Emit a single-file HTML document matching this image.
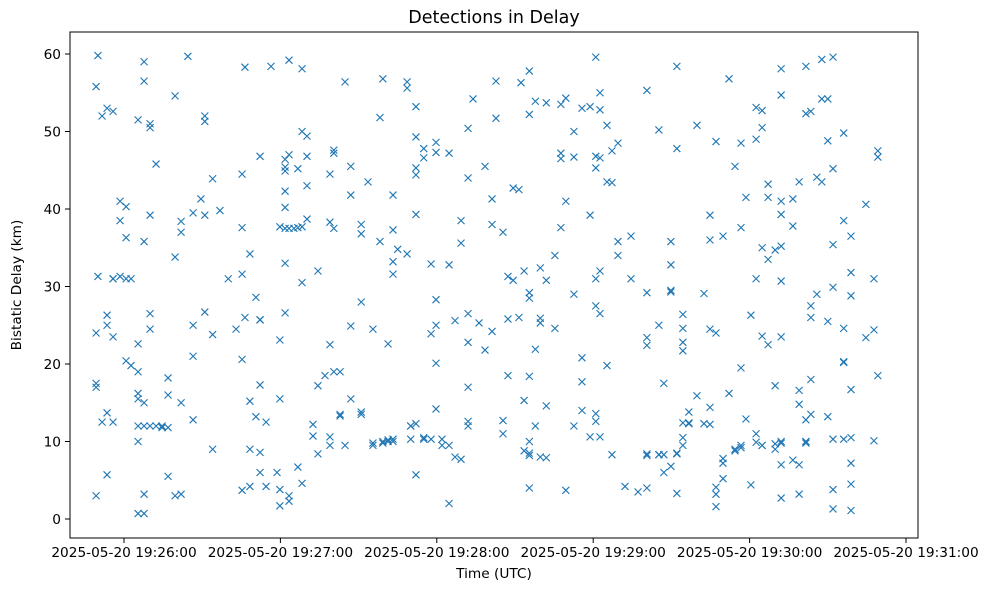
<!DOCTYPE html>
<html><head><meta charset="utf-8"><style>
body{margin:0;background:#fff;font-family:"DejaVu Sans","Liberation Sans",sans-serif}
svg text{font-family:"DejaVu Sans","Liberation Sans",sans-serif;fill:#000}
</style></head><body>
<svg id="chart" width="988" height="590" viewBox="0 0 988 590" xmlns="http://www.w3.org/2000/svg">
<rect width="988" height="590" fill="#fff"/>
<text x="494" y="23" font-size="17.5" text-anchor="middle">Detections in Delay</text>
<rect x="70" y="32" width="848" height="506" fill="none" stroke="#000" stroke-width="1"/>
<g id="marks"></g>
<g id="xticks"></g>
<g id="yticks"></g>
<text x="494" y="578" font-size="13.7" text-anchor="middle">Time (UTC)</text>
<text x="0" y="0" font-size="13.7" text-anchor="middle" transform="translate(21,285) rotate(-90)">Bistatic Delay (km)</text>
</svg>
<script>
// seconds after 19:26:00 UTC
const groupTimes = [-10.7,-10,-8.4,-6.5,-4.2,-1.5,0.8,2.7,5.4,7.7,10,12.3,14.6,16.9,19.6,21.9,24.5,26.5,29.5,31,34,36.8,40,43,45.3,46.4,48.3,50.6,52.2,54.5,56.4,58.7,59.8,61.8,63.3,65.2,66.7,68.3,70.2,72.5,74.4,77.1,79,80.5,82.9,84.8,87,91,93.6,95.5,98.2,99.3,101.3,103.2,105,108.6,110,112,115,117.8,119.7,122,124.7,127,129.3,132,133.9,136.2,138.5,141.2,142.7,145.4,147.3,149.3,151.5,152.3,153.5,155.5,157.8,159.7,162,165.3,167.6,169.5,172.6,175.7,178.8,181,182.6,185.3,187.2,189.5,192.2,194.5,197.2,200.6,205.2,207.1,209.8,212.1,214.4,216.7,219.8,222.5,224.8,227.1,229.8,232.1,234.4,236.7,238.6,240.5,242.5,244.8,247.1,249.8,252.1,256.6,259,261.6,263.5,265.8,267.7,270,272,276.1,278.9,284.6,287.7,289.2];
const groupDelays = [
[55.8,3,17.5,17,24],[59.8,31.3],[52,12.5],[26.3,25,5.7,13.7,53],[31,31,23.5,52.6,12.5],[41,38.5,31.3],[40.3,36.3,31,20.4],[31,19.8],
[51.5,0.7,16.2,15.5,12,10,22.6,19],[59,56.5,35.8,15,12,0.7,3.2],[50.5,51,39.2,26.5,24.5,12],[45.8,12],[11.8,12],[11.8,18.2,16,5.5],
[54.6,33.8,3],[37,38.4,15,3.2],[59.7],[39.5,25,21,12.8],[41.3],[51.3,52,39.2,26.7],[43.9,23.8,9],[39.8],[31],[24.5],
[44.5,37.6,31.6,20.6,3.7],[58.3,26],[15.2,9,4.2,34.2],[28.6,13.2],[46.8,25.7,25.7,17.3,8.6,6],[12.5,4.2],[58.4],[6],
[37.7,15.5,23.1,1.7,3.8],[46.4,42.3,37.5,33,26.6,44.9,45.4,40.2],[59.2,47,37.5,3,2.3],[37.5],[45.2,37.6,6.7],[58.1,50,37.7,30.5,4.6],
[49.4,46.8,43,38.7],[12.2,10.7],[32,17.2,8.4],[18.5],[38.3,44.5,22.5,10.6,9.5],[47.6,47.2,37.5,19],[13.3,19,13.5],[56.4,9.5],
[41.8,45.5,15.5,24.9],[38,36.8,28,13.8,13.5],[43.5],[24.5,9.5,9.8],[35.8,51.8],[56.8,10,9.8],[10.2,22.6,10],[33.2,31.6,37.3,41.8,10.3,10],
[34.8],[55.6,56.4,34.2],[12,10.3,12],[49.3,45.3,53.2,44.4,39.3,12.3,5.7],[47.8,46.6,10.3,10.5],[32.9,23.9,10.3],[48.6,47.3,28.3,25,20.1,14.2],
[10.3,9.5],[47.2,32.8,9.5,2],[25.6,8],[38.5,35.6,7.7],[50.4,44,26.5,22.8,17,12.6,12],[54.2],[25.3],[45.5,21.8],[41.3,38,24.2],[56.5,51.7],
[37,12.7,11],[31.3,25.8,18.5],[42.7,30.8],[42.5,26],[56.3],[32,15.3,8.8],[57.8,52.2,29.2,28.5,18.4,8.5,10,4,8.2],[53.9,21.9,12],
[25.9,25.3,32.4,8],[53.7,14.6,30.8,7.9],[34,24.6],[47.2,53.5,46.5,37.6],[3.7,54.3,41],[50,46.7,29,12],[53,20.8,17.7,14],[53.2,39.2,10.6],
[59.6,46.8,45.3,31,13.6,12.6,27.5],[52.8,55,46.6,32,26.5,10.6],[50.8,43.5,19.8],[43.4,47.5,8.3],[48.5,35.8,34],[4.2],[31,36.5],[3.5],
[55.3,23.4,22.4,29.2,8.2,8.4,4],[50.2,25,8.3,8.3],[6,8.3,17.5],[29.3,35.8,29.5,6.8,32.8],[58.4,47.8,8.4,3.3,8.5],[26.4,24.6,22.8,21.7,12.4,9.5,10.5],
[12.3,12.4,13.8],[50.8,15.9],[29.1,12.3],[36,39.2,24.5,12.2,14.4],[48.7,24,3.2,1.6,4.1],[36.5,7.2,7.8,5.2],[56.8,16.2],[45.5,8.8,9],
[48.5,37.6,19.5,9.5,9.2],[41.5,12.9],[26.3,4.4],[53.1,49,31,11,9.9],[52.7,50.5,35,23.6,9.5,9.5],[43.2,41.5,33.5,22.5],[34.7,17.2,9,9.7],
[58.1,54.7,41,39.3,35.2,30.7,23.5,10,9.8,7,2.7],[37.8,41.3,7.6],[43.5,14.8,16.6,7,3.2],[58.4,52.3,10,9.8,10,12.8],[52.6,18,27.5,26,13.5],
[44.1,29],[54.2,59.3,43.5],[54.2,48.8,25.5,13.2],[59.6,45.2,35.4,29.9,10.3,3.8,1.3],[49.8,38.5,24.6,20.3,20.2,10.3],
[36.5,31.8,28.8,16.7,10.5,7.2,4.5,1.1],[40.6,23.4],[31,24.4,10.1],[47.5,46.7,18.5]];
const xTickSeconds = [0,60,120,180,240,300];
const xTickLabels = ["2025-05-20 19:26:00","2025-05-20 19:27:00","2025-05-20 19:28:00","2025-05-20 19:29:00","2025-05-20 19:30:00","2025-05-20 19:31:00"];
const yTickValues = [0,10,20,30,40,50,60];

const NS = "http://www.w3.org/2000/svg";
const xs = s => 124 + s * (156.4/60);
const ys = v => 519 - v * 7.75;
const marks = document.getElementById('marks');
groupTimes.forEach((t, gi) => {
  (groupDelays[gi] || []).forEach(v => {
    const x = xs(t), y = ys(v);
    const p = document.createElementNS(NS, 'path');
    p.setAttribute('d', `M${x-3.5},${y-3.5}L${x+3.5},${y+3.5}M${x-3.5},${y+3.5}L${x+3.5},${y-3.5}`);
    p.setAttribute('stroke', '#1f77b4');
    p.setAttribute('stroke-width', '1.1');
    p.setAttribute('fill', 'none');
    
    
    marks.appendChild(p);
  });
});
const xg = document.getElementById('xticks');
xTickSeconds.forEach((s, i) => {
  const x = xs(s);
  const l = document.createElementNS(NS, 'line');
  l.setAttribute('x1', x); l.setAttribute('x2', x); l.setAttribute('y1', 538); l.setAttribute('y2', 543);
  l.setAttribute('stroke', '#000');
  
  
  xg.appendChild(l);
  const t = document.createElementNS(NS, 'text');
  t.setAttribute('x', x); t.setAttribute('y', 557); t.setAttribute('font-size', '13.7'); t.setAttribute('text-anchor', 'middle');
  
  
  t.textContent = xTickLabels[i];
  xg.appendChild(t);
});
const yg = document.getElementById('yticks');
yTickValues.forEach(v => {
  const y = ys(v);
  const l = document.createElementNS(NS, 'line');
  l.setAttribute('x1', 65); l.setAttribute('x2', 70); l.setAttribute('y1', y); l.setAttribute('y2', y);
  l.setAttribute('stroke', '#000');
  
  
  yg.appendChild(l);
  const t = document.createElementNS(NS, 'text');
  t.setAttribute('x', 61); t.setAttribute('y', y + 5); t.setAttribute('font-size', '13.7'); t.setAttribute('text-anchor', 'end');
  
  
  t.textContent = v;
  yg.appendChild(t);
});
</script>
</body></html>
